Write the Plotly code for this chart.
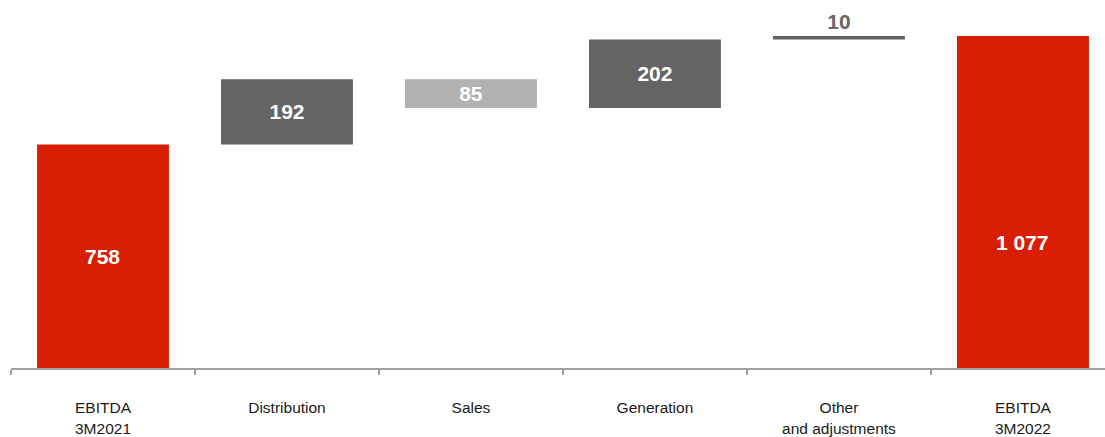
import plotly.graph_objects as go

categories = ["EBITDA<br>3M2021", "Distribution", "Sales", "Generation",
              "Other<br>and adjustments", "EBITDA<br>3M2022"]
values = [758, 192, -85, 202, 10, 1077]
measures = ["absolute", "relative", "relative", "relative", "relative", "total"]
labels = ["758", "192", "85", "202", "10", "1 077"]

RED = "#D81F05"
DARK = "#646464"
LIGHT = "#B1B1B1"
LABEL_FONT = "Liberation Sans Narrow, Arial Narrow, Liberation Sans, Arial, sans-serif"

is_total = [m != "relative" for m in measures]
trace_text = ["" if t else lab for t, lab in zip(is_total, labels)]
positions = ["inside"] * len(values)
positions[4] = "outside"

fig = go.Figure(go.Waterfall(
    x=categories,
    y=values,
    measure=measures,
    text=trace_text,
    textposition=positions,
    textangle=0,
    insidetextanchor="middle",
    constraintext="none",
    insidetextfont=dict(family=LABEL_FONT, size=21, color="white", weight="bold"),
    outsidetextfont=dict(family=LABEL_FONT, size=21, color="#666666", weight="bold"),
    increasing=dict(marker=dict(color=DARK)),
    decreasing=dict(marker=dict(color=LIGHT)),
    totals=dict(marker=dict(color=RED)),
    connector=dict(visible=False),
    showlegend=False,
    hoverinfo="skip",
))

# total labels (placed inside the red bars)
total_label_y = {0: 427, 5: 469}
for i, yv in total_label_y.items():
    fig.add_annotation(x=categories[i], y=yv, text=labels[i], showarrow=False,
                       font=dict(family=LABEL_FONT, size=21, color="white", weight="bold"),
                       xanchor="center", yanchor="middle")

fig.update_layout(
    width=1105, height=437,
    margin=dict(l=11, r=0, t=0, b=66),
    paper_bgcolor="white", plot_bgcolor="white",
    waterfallgap=0.283,
    font=dict(family="Liberation Sans, Arial, sans-serif", size=16, color="#1a1a1a"),
)
fig.update_xaxes(
    range=[-0.5, 5.446],
    showline=True, linecolor="#A0A0A0", linewidth=1.5,
    ticks="outside", ticklen=5, tickcolor="#A0A0A0", tickwidth=1.5,
    tickson="boundaries",
    ticklabelstandoff=25,
    showgrid=False, zeroline=False,
    tickfont=dict(size=15.5, color="#1a1a1a"),
)
fig.update_yaxes(range=[100, 1183], visible=False, showgrid=False, zeroline=False)

fig.write_html("out.html")
